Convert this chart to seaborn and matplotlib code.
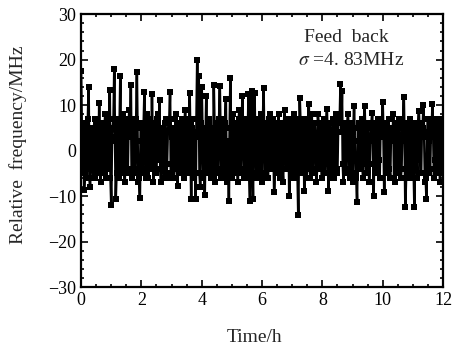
import numpy as np
import pandas as pd
import seaborn as sns
import matplotlib.pyplot as plt
from matplotlib.ticker import MultipleLocator

# Relative frequency (MHz), on the hour grid (every 0.05 h)
hour_0 = [17.5, -5, -8.7, 6, -4, 14, -8, 5, -6, 7, -3, 4, 10.5, -7, 6, -5, 8, -6, 3, 13.4]
hour_1 = [-11.9, 5, 17.9, -10.6, 7, -6, 16.3, -5, 8, -7, 6, -4, 9, 14.4, -6, 7, -5, 17.3, -7, -10.5]
hour_2 = [6, -5, 12.9, -6, 8, -4, 5, 12.4, -7, 6, -5, 8, 11.1, -7, 4, -6, 7, -3, 6, 12.9]
hour_3 = [-6, 5, -4, 8, -7.8, 6, -5, 7, -6, 9, -4, 6, 12.6, -10.6, 7, -6, -10.6, 19.9, 16.5, -8]
hour_4 = [14, -6, -9.8, 12, -5, 7, -6, 5, 14.4, -7, 6, -5, 14.1, -6, 7, -4, 11.3, -7, -11, 15.9]
hour_5 = [-6, 8, -5, 6, -7, 9, -4, 12, -6, 7, -5, 12.4, -11, 13, -10.6, 12.6, -6, 7, -5, 8]
hour_6 = [-7, 13.7, -5, 6, -6, 8, -4, 7, -9.2, 6, -5, 8, -6, 5, -7, 9, -4, 6, -9.9, 7]
hour_7 = [-5, 8, -6, 7, -14.1, 11.5, -5, 6, -8.8, 7, -4, 10.3, -6, 8, -5, 6, -7, 8, -4, 6]
hour_8 = [-6, 7, -5, 9.2, -8.8, 6, -5, 7, -6, 8, -4, 6, 14.6, 13, -7, 6, -5, 8, -6, 5]
hour_9 = [-7, 9.8, -5, -11.3, 6, -4, 7, -6, 9.8, -5, 6, -7, 5, 8.2, -9.9, 6, -5, 7, -6, 5]
hour_10 = [10.6, -9.2, 6, -5, 7, -6, 5, 8, -7, 6, -5, 7, -6, 5, 11.7, -12.4, 6, -5, 7, -6]
hour_11 = [6, -12.4, 5, -6, 8.6, -5, 6, 10, -7, -10.6, 7, -5, 6, 10.3, -6, 7, -5, 6, -7, 5, -4]

# readings in between (t + 0.025 h)
mid_0 = [4, 6, -5, 2, 7, -6, 4, -3, 5, -6, 7, -4, -5, 6, -3, 5, -6, 7, -4, -6]
mid_1 = [3, 7, 2, -5, 1, 6, -4, 5, -2, 7, -5, 6, 3, -5, 6, -4, 7, 2, -6, 5]
mid_2 = [-4, 6, 2, 5, -6, 7, -3, 1, 6, -5, 7, -2, -4, 5, -3, 6, -6, 4, 7, -5]
mid_3 = [3, -6, 7, -2, 5, -4, 6, -5, 4, -3, 7, -5, 2, 5, -6, 4, 7, 3, -5, 6]
mid_4 = [4, 5, 2, -5, 6, -3, 4, -6, 5, 2, -4, 7, 3, 2, -6, 6, -5, 2, 5, -3]
mid_5 = [4, -5, 6, -3, 7, -5, 6, 2, -4, 5, 3, -6, 4, -2, 6, 3, -5, 7, 4, -6]
mid_6 = [5, 2, 4, -6, 7, -3, 5, 2, -4, 4, 6, -5, 3, -4, 6, -2, 5, 7, -3, 4]
mid_7 = [3, -6, 4, -5, 2, 6, -3, 7, 4, -6, 7, -2, 4, -5, 6, 2, -4, 6, 4, -6]
mid_8 = [3, -5, 5, 2, -3, 4, -6, 7, 3, -5, 6, 7, 4, -3, 5, -4, 6, 2, -5, 6]
mid_9 = [4, 2, -6, 5, 2, 4, -3, 6, 3, -5, 2, -3, 6, 2, 4, -5, 5, -2, 4, 6]
mid_10 = [3, 4, -3, 5, -4, 4, 2, -6, 4, -3, 5, 2, -4, 6, 2, -6, 4, -2, 5, 2]
mid_11 = [-4, 5, -2, 6, 3, -5, 5, 3, -6, 4, 2, -4, 5, 3, -2, 6, -4, 7, 2, -5]

main = (hour_0 + hour_1 + hour_2 + hour_3 + hour_4 + hour_5 + hour_6
        + hour_7 + hour_8 + hour_9 + hour_10 + hour_11)
mid = (mid_0 + mid_1 + mid_2 + mid_3 + mid_4 + mid_5 + mid_6
       + mid_7 + mid_8 + mid_9 + mid_10 + mid_11)

freq = []
for a, b in zip(main, mid):
    freq += [a, b]
freq.append(main[-1])
time_h = np.arange(len(freq)) * 0.025

df = pd.DataFrame({'Time': time_h, 'Freq': freq})

sns.set_style("ticks")
plt.rcParams['font.family'] = ['Liberation Serif', 'DejaVu Serif']
plt.rcParams['mathtext.fontset'] = 'stix'

fig = plt.figure(figsize=(4.53, 3.45), dpi=100)
ax = fig.add_axes([0.179, 0.168, 0.799, 0.791])

sns.lineplot(data=df, x='Time', y='Freq', color='black', linewidth=1.8,
             marker='s', markersize=4.4, markeredgewidth=0, ax=ax)

ax.set_xlim(0, 12)
ax.set_ylim(-30, 30)
ax.xaxis.set_major_locator(MultipleLocator(2))
ax.xaxis.set_minor_locator(MultipleLocator(0.5))
ax.yaxis.set_major_locator(MultipleLocator(10))
ax.yaxis.set_minor_locator(MultipleLocator(2))
ax.tick_params(which='both', direction='in', top=True, right=True,
               labelsize=13, width=1.2, colors='black')
ax.tick_params(which='major', length=5)
ax.tick_params(which='minor', length=2.5)
for s in ax.spines.values():
    s.set_linewidth(1.6)
    s.set_color('black')

ax.set_xlabel('Time/h', fontsize=14)
ax.set_ylabel('Relative  frequency/MHz', fontsize=14)
ax.xaxis.set_label_coords(0.48, -0.155)
ax.yaxis.set_label_coords(-0.15, 0.52)

ax.text(8.78, 24.8, 'Feed  back', fontsize=14, ha='center', va='center')
ax.text(7.19, 19.7, r'$\sigma$ =4. 83MHz', fontsize=14, ha='left', va='center')

plt.savefig('out.png', dpi=100)
